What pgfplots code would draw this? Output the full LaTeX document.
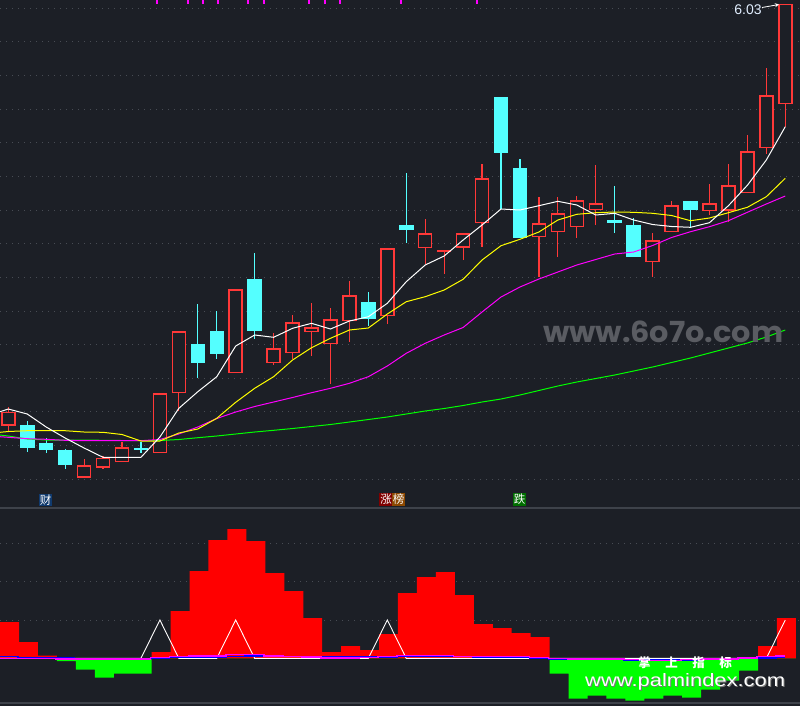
\documentclass[border=0pt]{standalone}
\usepackage{fontspec}
\setmainfont{Liberation Sans}
\newfontfamily\cjk{Noto Sans CJK SC}
\newfontfamily\wmfont{Poppins}
\usepackage{graphicx}
\usepackage{pgfplots}
\usepackage{pgfplotstable}
\pgfplotsset{compat=1.18}
\usetikzlibrary{arrows.meta}

\definecolor{bg}{RGB}{28,31,38}
\definecolor{gridc}{RGB}{72,76,84}
\definecolor{sepc}{RGB}{62,66,74}
\definecolor{upc}{RGB}{255,56,56}
\definecolor{dnc}{RGB}{84,255,255}
\definecolor{mag}{RGB}{255,0,255}
\definecolor{yel}{RGB}{255,255,0}
\definecolor{grn}{RGB}{0,255,0}
\definecolor{wm}{RGB}{90,92,98}
\definecolor{shadow}{RGB}{120,120,120}
\definecolor{chipblue}{RGB}{16,58,110}
\definecolor{chipred}{RGB}{128,0,0}
\definecolor{chipbrown}{RGB}{140,72,0}
\definecolor{chipgreen}{RGB}{0,110,0}
\definecolor{barred}{RGB}{255,0,0}
\definecolor{bargrn}{RGB}{0,255,0}
\definecolor{linblue}{RGB}{0,0,255}

% up (red, hollow) candles: body top, body bottom, high, low (screen rows)
\pgfplotstableread{
i bt bb hi lo
0 411.7 425.7 406.7 430.7
4 465.3 477.7 459 477.7
5 457.7 467.7 456 469.3
6 447.3 462.3 442 462.3
8 393.3 453.3 393.3 453.3
9 331 393.3 331 411
12 289.3 373.3 289.3 373.3
14 348.3 363.3 333.3 365.3
15 322.3 353.3 315.3 358.7
16 327.3 332.3 303.3 355.7
17 319.3 344.3 308.3 384.3
18 295.3 321.3 281 341.7
20 248.3 316.3 248.3 323.7
22 233.3 248.3 219 264
23 250.3 252.3 250.3 273.7
24 233.3 247.5 233.3 260
25 178.3 223.3 164 246.7
28 223.3 237.3 197 277.3
29 213.3 232.3 197 256.7
30 200.3 227.3 196 237.7
31 203.3 210.3 165 225
34 240.3 262.3 233 276.7
35 205.3 232.3 201 232.3
37 203.3 211.3 184 215
38 185.3 210.7 164 222
39 151.3 193.3 135 193.3
40 95.3 148.3 68 154
41 3.5 104.3 3.5 126.7
}\redtab

% down (cyan, filled) candles
\pgfplotstableread{
i bt bb hi lo
1 425 447.7 421 452.3
2 443 449.7 438 452.7
3 450 464.7 449 468.7
7 448.3 449.7 442 452.7
10 344 362.7 304 377.7
11 330.7 353.7 311 358.7
13 279 330.7 253.3 338.7
19 302 318.7 292 325.7
21 225 230 173.3 242.7
26 97 152.7 97 209.3
27 168 237.7 159 237.7
32 220 222.7 186 232.7
33 225 256.7 218 256.7
36 201 209.7 201 227.3
}\cyantab

% moving averages: white, yellow, magenta, green
\pgfplotstableread{
i w y m g
-0.44 411.7 432.3 436.7 435
0 409 431.5 437.3 436
1 414 430.7 438.7 439
2 427 430.7 439.3 440
3 438 430.7 440.3 440
4 448 432 440.7 440
5 457.3 432.3 440.7 440.3
6 457.3 434.5 440.7 440.5
7 457.3 441 440.7 440.7
8 437 441 439.5 440.5
9 408.3 433 434 439.5
10 391.7 429 427 437.7
11 376.7 418.3 418.5 436
12 346 402.3 412 434
13 335 388.3 406.5 432
14 337.3 376.7 402 430.3
15 328.3 360 397.5 428.5
16 323.3 347.7 392.7 426.5
17 329 338.3 388.3 424.5
18 321 330 383.3 422
19 316.7 328 376.7 419.5
20 303.3 314 366 417
21 281.7 301.7 353.3 414
22 265 296.7 343.3 411
23 256 290 335 408.5
24 240 279.3 327.5 405.5
25 225 260 312 402
26 209 245.7 297 399
27 210 239.3 287 395
28 205.7 232 279 390.5
29 201.3 220 272 386
30 205 214.3 265 382
31 215 212.7 259.5 378.5
32 213.3 212 254 375
33 220 212.3 252 371
34 224.5 213.3 245.5 367
35 226.5 215.5 237.5 362.5
36 227.3 220.7 231.7 358
37 222.7 218 226.7 353
38 205.7 212.7 220.7 348
39 185.3 207.3 212.3 343
40 160 196.7 204 337
41 126.7 178.3 196 330
}\matab

% lower panel histogram
\pgfplotstableread{
i v
0 36.3
1 16.3
2 2.6
3 -2.7
4 -11.4
5 -19.4
6 -15.4
7 -15.4
8 6.3
9 47.3
10 87.3
11 118.3
12 129.3
13 117.3
14 85.3
15 67.3
16 40.3
17 6.3
18 12.3
19 8.3
20 24.3
21 65.3
22 81.3
23 86.3
24 63.3
25 34.3
26 30.3
27 25.3
28 21.3
29 -15.4
30 -40.4
31 -37.4
32 -40.4
33 -42.4
34 -40.4
35 -37.4
36 -39.4
37 -31.4
38 -22.4
39 -12.4
40 12.3
41 40.3
}\bartab

% lower panel lines: white, blue, magenta
\pgfplotstableread{
i w b m
-0.44 0 2 -0.2
0 0 2 -0.2
1 0 1 -0.2
2 0 1 -0.2
3 0 0.3 -0.4
4 0 -0.2 -0.7
5 0 -0.2 -0.7
6 0 -0.2 -0.7
7 0 -0.2 -0.7
8 38.3 -0.2 0.8
9 0 0.8 1.8
10 0 1.3 2.6
11 0 1.3 2.6
12 38.3 1.8 3.8
13 0 2.3 3.8
14 0 2.3 2.3
15 0 2 1.8
16 0 1.8 1.3
17 0 1.3 0.6
18 0 1.3 0.6
19 0 1.3 0.8
20 38.3 1.3 1.8
21 0 1.8 3
22 0 2 2.8
23 0 2 2.8
24 0 1.8 2
25 0 1.3 2
26 0 1.3 2
27 0 0.8 1.8
28 0 0.3 0.8
29 0 -0.4 -0.2
30 0 -0.4 -0.7
31 0 -0.7 -0.7
32 0 -1.2 -0.7
33 0 -1.7 -1.2
34 0 -1.7 -2
35 0 -1.7 -2
36 0 -1.7 -1.2
37 0 -1.2 -0.7
38 0 -0.7 -0.7
39 0 -0.2 0.3
40 0 0.3 1.8
41 38.3 0.8 2.6
}\linetab

\pgfplotsset{
  panel/.style={scale only axis, width=800pt, xmin=0, xmax=800,
    axis background/.style={fill=bg}, axis line style={draw=none},
    xtick=\empty, tick style={draw=none}, major tick length=0pt,
    yticklabels={}, ymajorgrids,
    grid style={gridc, line width=0.9pt, dash pattern=on 0.9pt off 5.1pt}},
  cand/.style={only marks, mark=*, mark size=0pt, mark options={draw=none, fill=none}, forget plot,
    error bars/y dir=both, error bars/y explicit, error bars/error mark=none},
}

\begin{document}
\begin{tikzpicture}
% ---------------- main price panel ----------------
\begin{axis}[panel, at={(0pt,0pt)}, anchor=north west, height=507pt,
  ymin=0, ymax=507, y dir=reverse,
  ytick={8.3,41.9,75.6,109.2,142.8,176.5,210.1,243.7,277.3,311,344.6,378.2,411.9,445.5,479.1}]
% wicks
\addplot[cand, color=upc, error bars/error bar style={line width=1.2pt, draw=upc}]
  table[x expr=8.3+18.95*\thisrow{i}, y expr=(\thisrow{hi}+\thisrow{lo})/2, y error expr=(\thisrow{lo}-\thisrow{hi})/2] {\redtab};
\addplot[cand, color=dnc, error bars/error bar style={line width=1.2pt, draw=dnc}]
  table[x expr=8.3+18.95*\thisrow{i}, y expr=(\thisrow{hi}+\thisrow{lo})/2, y error expr=(\thisrow{lo}-\thisrow{hi})/2] {\cyantab};
% red hollow bodies
\addplot[cand, color=upc, error bars/error bar style={line width=14.5pt, draw=upc}]
  table[x expr=8.3+18.95*\thisrow{i}, y expr=(\thisrow{bt}+\thisrow{bb})/2, y error expr={max((\thisrow{bb}-\thisrow{bt})/2,0.8)}] {\redtab};
\addplot[cand, color=bg, error bars/error bar style={line width=11.5pt, draw=bg}]
  table[x expr=8.3+18.95*\thisrow{i}, y expr=(\thisrow{bt}+\thisrow{bb})/2, y error expr={max((\thisrow{bb}-\thisrow{bt})/2-1.5,0)}] {\redtab};
% cyan filled bodies
\addplot[cand, color=dnc, error bars/error bar style={line width=14.5pt, draw=dnc}]
  table[x expr=8.3+18.95*\thisrow{i}, y expr=(\thisrow{bt}+\thisrow{bb})/2, y error expr={max((\thisrow{bb}-\thisrow{bt})/2,0.8)}] {\cyantab};
% moving averages
\addplot[grn, line width=1pt] table[x expr=8.3+18.95*\thisrow{i}, y=g] {\matab};
\addplot[mag, line width=1pt] table[x expr=8.3+18.95*\thisrow{i}, y=m] {\matab};
\addplot[yel, line width=1pt] table[x expr=8.3+18.95*\thisrow{i}, y=y] {\matab};
\addplot[white, line width=1pt] table[x expr=8.3+18.95*\thisrow{i}, y=w] {\matab};
% top signal ticks
\addplot[ycomb, mag, line width=2.2pt] coordinates {(157.3,3.5) (188,3.5) (202.7,3.5) (217.7,3.5) (248.3,3.5) (264,3.5) (309.3,3.5) (324.7,3.5) (340,3.5) (401,3.5) (476.7,3.5)};
% annotations
\node[anchor=south west, inner sep=0pt, text=wm] at (axis cs:543,343.3) {\resizebox{240pt}{21.6pt}{\wmfont\bfseries www.6o7o.com}};
\node[text={rgb,255:red,225;green,238;blue,255}, inner sep=0pt, font=\fontsize{14}{14}\selectfont] at (axis cs:748,9.5) {6.03};
\draw[white, line width=0.8pt, -{Stealth[length=4pt,width=4pt,open]}] (axis cs:762,7.5) -- (axis cs:779,4.5);
\node[fill=chipblue, text=white, inner sep=1pt, font=\cjk\fontsize{11.5}{11.5}\selectfont] at (axis cs:45.5,500) {财};
\node[fill=chipred, text=white, inner sep=1pt, font=\cjk\fontsize{11.5}{11.5}\selectfont] at (axis cs:386,499.5) {涨};
\node[fill=chipbrown, text=white, inner sep=1pt, font=\cjk\fontsize{11.5}{11.5}\selectfont] at (axis cs:398.7,499.5) {榜};
\node[fill=chipgreen, text=white, inner sep=1pt, font=\cjk\fontsize{11.5}{11.5}\selectfont] at (axis cs:519.5,499.5) {跌};
\end{axis}

% ---------------- lower indicator panel ----------------
\begin{axis}[panel, at={(0pt,-507pt)}, anchor=north west, height=199pt,
  ymin=-47.7, ymax=151.3, ytick={38,77.3,115}]
\addplot[ybar, bar width=19, bar shift=0pt, fill=barred, draw=none, forget plot]
  table[x expr=9.5+18.95*\thisrow{i}, y expr={max(\thisrow{v},0)}] {\bartab};
\addplot[ybar, bar width=19, bar shift=0pt, fill=bargrn, draw=none, forget plot]
  table[x expr=9.5+18.95*\thisrow{i}, y expr={min(\thisrow{v},0)}] {\bartab};
\addplot[white, line width=0.9pt] table[x expr=8.3+18.95*\thisrow{i}, y=w] {\linetab};
\addplot[linblue, line width=1.6pt, const plot mark mid] table[x expr=8.3+18.95*\thisrow{i}, y=b] {\linetab};
\addplot[mag, line width=1.6pt, const plot mark mid] table[x expr=8.3+18.95*\thisrow{i}, y=m] {\linetab};
\draw[sepc, line width=2pt] (axis cs:0,150.3) -- (axis cs:800,150.3);
\draw[sepc, line width=2pt] (axis cs:0,-45) -- (axis cs:800,-45);
\node[text=white, inner sep=0pt, font=\cjk\bfseries\fontsize{12.5}{12.5}\selectfont] at (axis cs:685,-4.6) {掌\hspace{14.5pt}上\hspace{14.5pt}指\hspace{14.5pt}标};
\node[anchor=base west, inner sep=0pt, text=shadow] at (axis cs:586,-29.6) {\resizebox{200pt}{13pt}{\fontsize{20}{20}\selectfont www.palmindex.com}};
\node[anchor=base west, inner sep=0pt, text=white] at (axis cs:585,-28.6) {\resizebox{200pt}{13pt}{\fontsize{20}{20}\selectfont www.palmindex.com}};
\end{axis}
\pgfresetboundingbox
\useasboundingbox (0pt,0pt) rectangle (800pt,-706pt);
\end{tikzpicture}
\end{document}
